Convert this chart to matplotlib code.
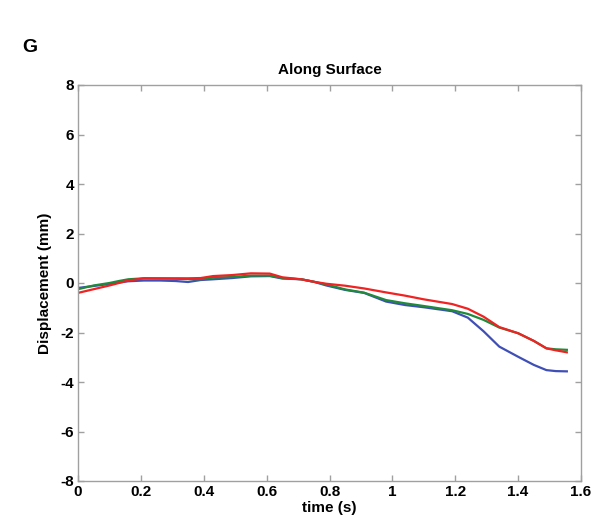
import matplotlib
matplotlib.use("Agg")
import matplotlib.pyplot as plt

plt.rcParams['font.family'] = ['Liberation Sans', 'DejaVu Sans']
plt.rcParams['axes.unicode_minus'] = False

t = [0, 0.05, 0.1, 0.13, 0.16, 0.21, 0.26, 0.31, 0.35, 0.39, 0.43, 0.49, 0.55, 0.61, 0.65,
     0.71, 0.75, 0.79, 0.85, 0.91, 0.98, 1.04, 1.10, 1.19, 1.24, 1.29, 1.34, 1.40, 1.45,
     1.49, 1.52, 1.555]
blue = [-0.2, -0.12, -0.04, 0.02, 0.07, 0.1, 0.1, 0.08, 0.04, 0.12, 0.15, 0.2, 0.27, 0.28, 0.18,
        0.15, 0.05, -0.1, -0.28, -0.4, -0.75, -0.89, -0.98, -1.14, -1.4, -1.95, -2.57, -2.98,
        -3.31, -3.52, -3.56, -3.57]
green = [-0.25, -0.1, 0.0, 0.08, 0.15, 0.19, 0.18, 0.17, 0.16, 0.15, 0.22, 0.24, 0.3, 0.3, 0.2,
         0.15, 0.05, -0.06, -0.26, -0.39, -0.69, -0.82, -0.93, -1.1, -1.25, -1.49, -1.8, -2.03,
         -2.34, -2.64, -2.68, -2.7]
red = [-0.4, -0.25, -0.1, 0.0, 0.1, 0.19, 0.19, 0.19, 0.19, 0.2, 0.28, 0.32, 0.39, 0.38, 0.23,
       0.15, 0.05, -0.03, -0.11, -0.22, -0.38, -0.51, -0.66, -0.85, -1.04, -1.36, -1.78, -2.03,
       -2.34, -2.64, -2.72, -2.8]

xticks = [0, 0.2, 0.4, 0.6, 0.8, 1.0, 1.2, 1.4, 1.6]
xticklabels = ['0', '0.2', '0.4', '0.6', '0.8', '1', '1.2', '1.4', '1.6']
yticks = [-8, -6, -4, -2, 0, 2, 4, 6, 8]

fig = plt.figure(figsize=(5.98, 5.22), dpi=100)
ax = fig.add_axes([78/598, 1 - 481/522, (581 - 78)/598, (481 - 85)/522])

ax.plot(t, blue, color='#3f4fb5', lw=1.6)
ax.plot(t, green, color='#1f8a3a', lw=1.6)
ax.plot(t, red, color='#f02222', lw=1.6)

ax.set_xlim(0, 1.6)
ax.set_ylim(-8, 8)
ax.set_xticks(xticks)
ax.set_xticklabels(xticklabels)
ax.set_yticks(yticks)
for s in ax.spines.values():
    s.set_color('#a0a0a0')
    s.set_linewidth(1.0)
ax.tick_params(direction='in', color='#a0a0a0', length=4, width=1.0,
               top=True, right=True, labelsize=11, pad=3)
for lab in ax.get_xticklabels() + ax.get_yticklabels():
    lab.set_fontweight('bold')

ax.set_title('Along Surface', fontsize=11, fontweight='bold', pad=8)
ax.set_xlabel('time (s)', fontsize=11, fontweight='bold', labelpad=1)
ax.set_ylabel('Displacement (mm)', fontsize=11, fontweight='bold', labelpad=6)

fig.text(22/598, 1 - 48/522, 'G', fontsize=14, fontweight='bold', va='center', ha='left')

fig.savefig('out.png', dpi=100)
